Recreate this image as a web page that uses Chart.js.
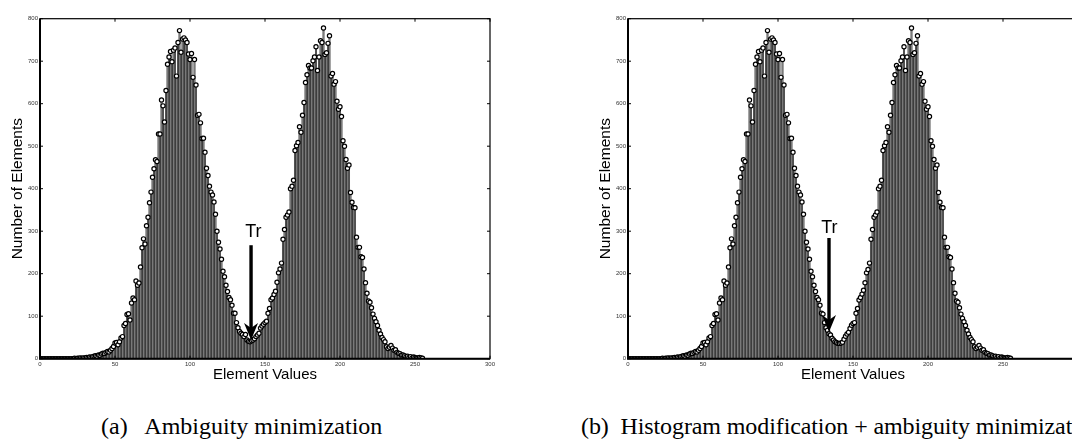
<!DOCTYPE html>
<html>
<head>
<meta charset="utf-8">
<script src="https://cdn.jsdelivr.net/npm/chart.js@4.4.0/dist/chart.umd.min.js"></script>
<style>
  html, body { margin: 0; padding: 0; background: #fff; overflow: hidden; width: 1072px; height: 444px; }
  .panel { position: absolute; top: 0; }
  .caption { position: absolute; top: 412px; line-height: 28px; font-family: "Liberation Serif", "Times New Roman", serif; font-size: 24px; white-space: nowrap; color: #000; }
</style>
</head>
<body>
<canvas id="chartA" class="panel" width="530" height="400" style="left:0px"></canvas>
<canvas id="chartB" class="panel" width="530" height="400" style="left:588px"></canvas>
<div class="caption" style="left:101px">(a)&nbsp;&nbsp; Ambiguity minimization</div>
<div class="caption" style="left:581px; letter-spacing:-0.1px">(b)&nbsp; Histogram modification + ambiguity minimization</div>
<script>
// histogram counts per element value 0..255
const countsA = [
  0,0,0,0,0,0,0,0,0,0,0,0,0,0,0,0,0,0,0,0,0,0,0,
  1,0,1,1,2,1,2,2,3,2,4,3,5,
  6,7,6,9,8,11,13,12,15,17,16,20,24,29,
  37,38,33,40,49,52,78,83,104,106,91,131,143,139,183,173,178,216,261,282,270,313,333,367,
  392,427,447,468,464,529,529,609,595,557,631,693,710,723,699,726,731,665,744,772,721,752,755,750,744,717,704,718,662,704,644,573,575,555,518,519,486,448,431,406,392,385,
  369,340,300,274,258,234,206,193,173,158,144,139,126,107,107,85,73,64,60,57,52,57,44,41,40,42,44,47,52,56,60,72,77,81,85,88,107,118,139,143,151,159,180,202,211,225,
  281,304,333,338,345,400,406,420,490,501,509,546,533,573,603,650,668,690,684,684,701,710,734,678,710,748,744,778,716,720,742,760,665,671,646,652,606,587,593,570,513,500,469,448,456,391,
  368,356,355,286,262,262,240,238,211,179,154,136,133,120,105,95,87,78,67,58,50,45,40,28,24,27,31,25,20,21,15,13,12,9,9,7,5,6,3,5,2,4,3,2,2,3,2,1
];

const countsB = [
  0,0,0,0,0,0,0,0,0,0,0,0,0,0,0,0,0,0,0,0,0,0,0,
  1,0,1,1,2,1,2,2,3,2,4,3,5,
  6,7,6,9,8,11,13,12,15,17,16,20,24,29,
  37,38,33,40,49,52,78,83,104,106,91,131,143,139,183,173,178,216,261,282,270,313,333,367,
  392,427,447,468,464,529,529,609,595,557,631,693,710,723,699,726,731,665,744,772,721,752,755,750,744,717,704,718,662,704,644,573,575,555,518,519,486,448,431,406,392,385,
  369,340,300,274,258,234,206,193,173,158,144,139,126,107,105,85,73,67,59,56,48,44,40,38,36,36,37,39,46,53,58,62,71,79,83,85,107,118,138,144,152,161,179,202,210,225,
  281,304,333,338,345,400,406,420,490,501,509,546,533,573,603,650,668,690,684,684,701,710,734,678,710,748,744,778,716,720,742,760,665,671,646,652,606,587,593,570,513,500,469,448,456,391,
  368,356,355,286,262,262,240,238,211,179,154,136,133,120,105,95,87,78,67,58,50,45,40,28,24,27,31,25,20,21,15,13,12,9,9,7,5,6,3,5,2,4,3,2,2,3,2,1
];

const xTickValues = [0, 50, 100, 150, 200, 250, 300];
const yTickValues = [0, 100, 200, 300, 400, 500, 600, 700, 800];

// "Tr" threshold arrows (data units)
const arrowA = { x: 140.7, top: 267, tip: 44, labelX: 142.3, labelY: 287 };
const arrowB = { x: 134, top: 284, tip: 63, labelX: 134.3, labelY: 296 };

const sansFont = '"Liberation Sans", Arial, Helvetica, sans-serif';

const framePlugin = {
  id: 'frame',
  afterDraw(chart) {
    const { ctx, chartArea: a, scales: { x, y } } = chart;
    ctx.save();
    ctx.strokeStyle = '#000';
    ctx.lineWidth = 1.2;
    ctx.strokeRect(a.left, a.top, a.right - a.left, a.bottom - a.top);
    ctx.lineWidth = 2;
    ctx.beginPath();
    ctx.moveTo(a.left, a.top);
    ctx.lineTo(a.left, a.bottom);
    ctx.lineTo(a.right, a.bottom);
    ctx.stroke();
    // inward ticks
    ctx.lineWidth = 1;
    ctx.beginPath();
    xTickValues.forEach(v => {
      const px = x.getPixelForValue(v);
      ctx.moveTo(px, a.bottom); ctx.lineTo(px, a.bottom - 3);
      ctx.moveTo(px, a.top); ctx.lineTo(px, a.top + 3);
    });
    yTickValues.forEach(v => {
      const py = y.getPixelForValue(v);
      ctx.moveTo(a.left, py); ctx.lineTo(a.left + 3, py);
      ctx.moveTo(a.right, py); ctx.lineTo(a.right - 3, py);
    });
    ctx.stroke();

    const arr = chart.options.plugins.frame.arrow;
    const sx = x.getPixelForValue(arr.x);
    const top = y.getPixelForValue(arr.top);
    const tip = y.getPixelForValue(arr.tip);
    ctx.fillStyle = '#000';
    ctx.fillRect(sx - 1.7, top, 3.4, tip - top - 10);
    ctx.beginPath();
    ctx.moveTo(sx, tip);
    ctx.lineTo(sx - 7, tip - 17);
    ctx.lineTo(sx, tip - 12);
    ctx.lineTo(sx + 7, tip - 17);
    ctx.closePath();
    ctx.fill();
    ctx.font = '18px ' + sansFont;
    ctx.textAlign = 'center';
    ctx.textBaseline = 'alphabetic';
    ctx.fillText('Tr', x.getPixelForValue(arr.labelX), y.getPixelForValue(arr.labelY));
    ctx.restore();
  }
};

function makeChart(id, counts, arrow) {
  const bars = counts.map((v, i) => ({ x: i, y: v }));
  const ctx = document.getElementById(id).getContext('2d');
  return new Chart(ctx, {
    type: 'bar',
    data: {
      datasets: [
        {
          type: 'line',
          data: bars,
          showLine: false,
          pointRadius: 2.1,
          pointBorderWidth: 1.2,
          pointBorderColor: '#000',
          pointBackgroundColor: '#fff',
          order: 0
        },
        {
          type: 'bar',
          data: bars,
          backgroundColor: '#7a7a7a',
          borderColor: '#000',
          borderWidth: 0.4,
          barPercentage: 1,
          categoryPercentage: 1,
          order: 1
        }
      ]
    },
    options: {
      responsive: false,
      animation: false,
      devicePixelRatio: 1,
      layout: { padding: { left: 0, top: 18.7, right: 40, bottom: 0 } },
      plugins: {
        legend: { display: false },
        tooltip: { enabled: false },
        frame: { arrow: arrow }
      },
      scales: {
        x: {
          type: 'linear',
          min: 0,
          max: 300,
          offset: false,
          grid: { display: false, drawTicks: false },
          border: { display: false },
          afterBuildTicks: s => { s.ticks = xTickValues.map(v => ({ value: v })); },
          afterFit: s => { s.height = 41.3; },
          ticks: { padding: 2.5, color: '#333', font: { size: 6, family: sansFont }, maxRotation: 0 },
          title: { display: true, text: 'Element Values', color: '#000', font: { size: 15, family: sansFont }, padding: { top: 0, bottom: 16.3 } }
        },
        y: {
          min: 0,
          max: 800,
          grid: { display: false, drawTicks: false },
          border: { display: false },
          afterBuildTicks: s => { s.ticks = yTickValues.map(v => ({ value: v })); },
          afterFit: s => { s.width = 40; },
          ticks: { padding: 2, color: '#333', font: { size: 6, family: sansFont } },
          title: { display: true, text: 'Number of Elements', color: '#000', font: { size: 15.5, family: sansFont }, padding: { top: 8, bottom: 0 } }
        }
      }
    },
    plugins: [framePlugin]
  });
}

makeChart('chartA', countsA, arrowA);
makeChart('chartB', countsB, arrowB);
</script>
</body>
</html>
